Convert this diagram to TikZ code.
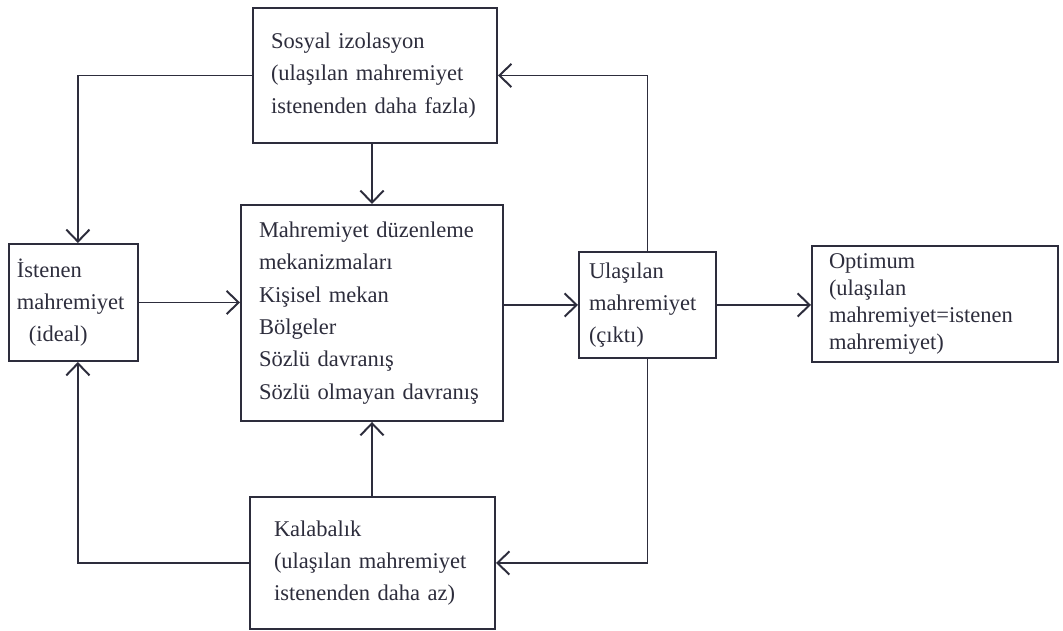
\documentclass[tikz,border=0pt]{standalone}
\usepackage{fontspec}
\setmainfont{Liberation Serif}
\usetikzlibrary{arrows.meta}
\definecolor{ink}{RGB}{45,45,60}
\tikzset{
	box/.style = {draw = ink, text = ink, line width = 1.4pt, align = left, font = \fontsize{16}{23}\selectfont},
	arr/.style = {draw = ink, line width = 1.4pt, -{Straight Barb[length = 3mm, width = 5.8mm]}}
}
\begin{document}
\begin{tikzpicture}
	\useasboundingbox (0,0) rectangle (26.575,15.775);
	\node [box, minimum width = 6.1cm, minimum height = 3.375cm, inner xsep = 0.45cm, text width = 5.2cm] (izolasyon) at (9.375,13.8875) {Sosyal izolasyon\\(ulaşılan mahremiyet\\istenenden daha fazla)};
	\node [box, minimum width = 6.55cm, minimum height = 5.4cm, inner xsep = 0.45cm, text width = 5.65cm] (mekanizma) at (9.3,7.95) {Mahremiyet düzenleme\\mekanizmaları\\Kişisel mekan\\Bölgeler\\Sözlü davranış\\Sözlü olmayan davranış};
	\node [box, minimum width = 3.225cm, minimum height = 2.925cm, inner xsep = 0.2cm, text width = 2.825cm] (istenen) at (1.8375,8.2125) {İstenen\\mahremiyet\\\hspace*{0.3cm}(ideal)};
	\node [box, minimum width = 3.425cm, minimum height = 2.65cm, inner xsep = 0.25cm, text width = 2.925cm] (ulasilan) at (16.1875,8.15) {Ulaşılan\\mahremiyet\\(çıktı)};
	\node [box, minimum width = 6.15cm, minimum height = 2.9cm, inner xsep = 0.425cm, text width = 5.3cm, font = \fontsize{16}{19.3}\selectfont] (optimum) at (23.375,8.175) {Optimum\\(ulaşılan\\mahremiyet=istenen\\mahremiyet)};
	\node [box, minimum width = 6.125cm, minimum height = 3.3cm, inner xsep = 0.6cm, text width = 4.925cm] (kalabalik) at (9.3125,1.7) {Kalabalık\\(ulaşılan mahremiyet\\istenenden daha az)};
	\draw [arr] (istenen.east) -- (istenen.east -| mekanizma.west);
	\draw [arr] (ulasilan.west -| mekanizma.east) -- (ulasilan.west);
	\draw [arr] (ulasilan.east) -- (ulasilan.east -| optimum.west);
	\draw [arr] (izolasyon.south -| mekanizma.north) -- (mekanizma.north);
	\draw [arr] (kalabalik.north -| mekanizma.south) -- (mekanizma.south);
	\draw [arr] (izolasyon.west) -| ([xshift = 0.11cm]istenen.north);
	\draw [arr] (kalabalik.west) -| ([xshift = 0.11cm]istenen.south);
	\draw [arr] (ulasilan.north) |- (izolasyon.east);
	\draw [arr] (ulasilan.south) |- (kalabalik.east);
\end{tikzpicture}
\end{document}
